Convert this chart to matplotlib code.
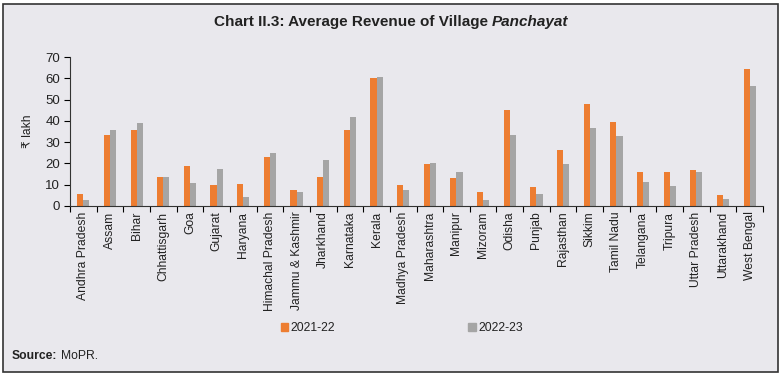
import numpy as np
import matplotlib
matplotlib.use("Agg")
import matplotlib.pyplot as plt
from matplotlib.patches import Rectangle, Patch

plt.rcParams['font.family'] = ['Liberation Sans', 'DejaVu Sans']

states = ["Andhra Pradesh", "Assam", "Bihar", "Chhattisgarh", "Goa", "Gujarat",
          "Haryana", "Himachal Pradesh", "Jammu & Kashmir", "Jharkhand",
          "Karnataka", "Kerala", "Madhya Pradesh", "Maharashtra", "Manipur",
          "Mizoram", "Odisha", "Punjab", "Rajasthan", "Sikkim", "Tamil Nadu",
          "Telangana", "Tripura", "Uttar Pradesh", "Uttarakhand", "West Bengal"]
rev_2122 = [5.7, 33.3, 35.5, 13.4, 19.0, 10.0, 10.3, 23.0, 7.3, 13.4, 35.8, 59.9,
            10.0, 19.6, 13.1, 6.6, 44.9, 9.0, 26.2, 47.7, 39.4, 15.9, 16.2, 16.8,
            5.4, 64.4]
rev_2223 = [2.8, 35.6, 39.0, 13.4, 10.8, 17.4, 4.3, 24.7, 6.5, 21.4, 42.0, 60.6,
            7.4, 20.2, 16.2, 2.8, 33.5, 5.7, 19.6, 36.6, 33.0, 11.4, 9.3, 16.0,
            3.2, 56.6]
yticks = [0, 10, 20, 30, 40, 50, 60, 70]

orange = '#ed7d31'
grey = '#a5a5a5'
bg = '#e9e8ed'
txt = '#222222'

fig = plt.figure(figsize=(7.84, 3.76), dpi=100, facecolor='white')
# outer frame
fig.patches.append(Rectangle((3 / 784, 4 / 376), 775 / 784, 368 / 376,
                             transform=fig.transFigure, facecolor=bg,
                             edgecolor='#333333', linewidth=1.2, zorder=-10))

ax = fig.add_axes([70 / 784, 1 - 206 / 376, 693 / 784, 149 / 376])
ax.set_facecolor('none')
ax.set_zorder(5)

x = np.arange(len(states))
w = 0.23
ax.bar(x - w / 2, rev_2122, w, color=orange, label='2021-22')
ax.bar(x + w / 2, rev_2223, w, color=grey, label='2022-23')

ax.set_xlim(-0.5, len(states) - 0.5)
ax.set_ylim(0, 70)
ax.set_yticks(yticks)
ax.set_xticks(x)
ax.set_xticklabels(states, rotation=90, fontsize=8.7, color=txt)
ax.tick_params(axis='x', length=0, pad=4)
ax.set_xticks(np.arange(-0.5, len(states)), minor=True)
ax.tick_params(axis='x', which='minor', length=4, width=0.8, direction='out')
ax.tick_params(axis='y', length=4, width=0.8, direction='out', labelsize=9.5,
               labelcolor=txt, pad=3)
for s in ['top', 'right']:
    ax.spines[s].set_visible(False)
for s in ['left', 'bottom']:
    ax.spines[s].set_linewidth(0.8)
    ax.spines[s].set_color('#333333')
ax.set_ylabel('₹ lakh', fontsize=8.7, color=txt, labelpad=8)

# title: normal bold part + bold italic part
t1 = fig.text(0, 1 - 22 / 376, "Chart II.3: Average Revenue of Village ",
              fontsize=11, fontweight='bold', color=txt, va='center', ha='left')
t2 = fig.text(0, 1 - 22 / 376, "Panchayat", fontsize=11, fontweight='bold',
              style='italic', color=txt, va='center', ha='left')
fig.canvas.draw()
r = fig.canvas.get_renderer()
w1 = t1.get_window_extent(r).width
w2 = t2.get_window_extent(r).width
x0 = 391 - (w1 + w2) / 2
t1.set_x(x0 / 784)
t2.set_x((x0 + w1) / 784)

handles = [Patch(color=orange), Patch(color=grey)]
fig.legend(handles, ['2021-22', '2022-23'], loc='center',
           bbox_to_anchor=(402 / 784, 1 - 328 / 376), ncol=2, frameon=False,
           fontsize=8.7, handlelength=0.6, handleheight=0.6, handletextpad=0.25,
           columnspacing=11.0, labelcolor=txt)

s1 = fig.text(12 / 784, 1 - 356 / 376, "Source:", fontsize=8.7, fontweight='bold',
              color=txt, va='center', ha='left')
fig.canvas.draw()
sw = s1.get_window_extent(r).width
fig.text((12 + sw + 3.5) / 784, 1 - 356 / 376, "MoPR.", fontsize=8.7, color=txt,
         va='center', ha='left')

plt.savefig('out.png', dpi=100, facecolor='white')
